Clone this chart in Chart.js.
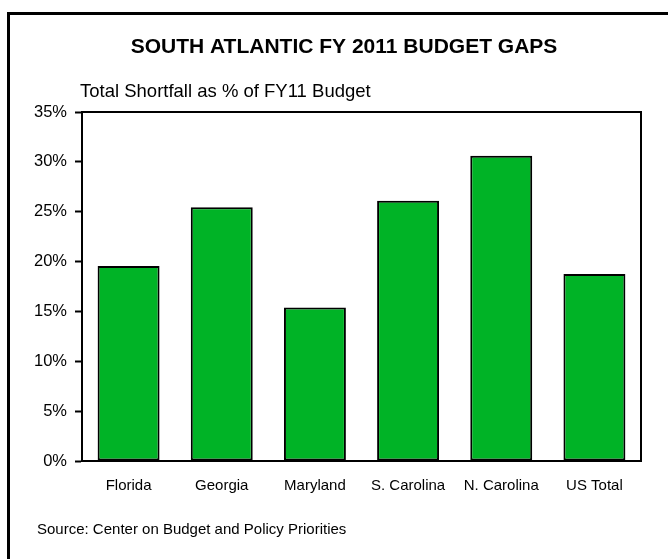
<!DOCTYPE html>
<html lang="en">
<head>
    <meta charset="UTF-8">
    <title>South Atlantic FY 2011 Budget Gaps</title>
    <script src="https://cdn.jsdelivr.net/npm/chart.js"></script>
    <style>
        html, body { margin: 0; padding: 0; background: #fff; }
        #wrap { width: 668px; height: 559px; position: relative; }
    </style>
</head>
<body>
    <div id="wrap">
        <canvas id="gapChart"></canvas>
    </div>

    <script>
        // chart data
        const states = ['Florida', 'Georgia', 'Maryland', 'S. Carolina', 'N. Carolina', 'US Total'];
        const shortfallPct = [19.55, 25.45, 15.4, 26.1, 30.6, 18.75];
        const yTicks = [0, 5, 10, 15, 20, 25, 30, 35];

        const FONT = "'Liberation Sans', Arial, sans-serif";

        // frame, headings, source note and the plot box
        const decorations = {
            id: 'decorations',
            beforeDraw(chart) {
                const ctx = chart.ctx;
                ctx.save();
                ctx.fillStyle = '#fff';
                ctx.fillRect(0, 0, chart.width, chart.height);
                ctx.strokeStyle = '#000';
                ctx.lineWidth = 3;
                ctx.beginPath();
                ctx.moveTo(8.5, chart.height + 2);
                ctx.lineTo(8.5, 13.5);
                ctx.lineTo(chart.width + 2, 13.5);
                ctx.stroke();

                ctx.fillStyle = '#000';
                ctx.textBaseline = 'middle';
                ctx.font = 'bold 21px ' + FONT;
                ctx.textAlign = 'center';
                ctx.fillText('SOUTH ATLANTIC FY 2011 BUDGET GAPS', 344, 47);

                ctx.font = '18.5px ' + FONT;
                ctx.textAlign = 'left';
                ctx.fillText('Total Shortfall as % of FY11 Budget', 80, 92);

                ctx.font = '15px ' + FONT;
                ctx.fillText('Source: Center on Budget and Policy Priorities', 37, 530);
                ctx.restore();
            },
            afterDatasetsDraw(chart) {
                const a = chart.chartArea;
                const ctx = chart.ctx;
                ctx.save();
                ctx.strokeStyle = '#000';
                ctx.lineWidth = 2;
                ctx.strokeRect(a.left, a.top, a.right - a.left, a.bottom - a.top);
                ctx.restore();
            }
        };

        new Chart(document.getElementById('gapChart'), {
            type: 'bar',
            data: {
                labels: states,
                datasets: [{
                    data: shortfallPct,
                    backgroundColor: '#00B326',
                    borderColor: '#000',
                    borderWidth: 2,
                    borderSkipped: false,
                    categoryPercentage: 1,
                    barPercentage: 0.665
                }]
            },
            options: {
                responsive: true,
                maintainAspectRatio: false,
                animation: false,
                layout: { padding: { left: 0, right: 27, top: 112, bottom: 58 } },
                plugins: {
                    legend: { display: false },
                    tooltip: { enabled: false }
                },
                scales: {
                    x: {
                        grid: { display: false, drawTicks: false },
                        border: { display: true, color: '#000', width: 2 },
                        ticks: {
                            color: '#000',
                            padding: 16,
                            maxRotation: 0,
                            autoSkip: false,
                            font: { family: FONT, size: 15 }
                        },
                        afterFit(scale) { scale.height = 40; }
                    },
                    y: {
                        min: 0,
                        max: 35,
                        afterBuildTicks(scale) {
                            scale.ticks = yTicks.map(v => ({ value: v }));
                        },
                        grid: {
                            drawOnChartArea: false,
                            drawTicks: true,
                            tickLength: 7,
                            tickWidth: 2,
                            tickColor: '#000'
                        },
                        border: { display: true, color: '#000', width: 2 },
                        ticks: {
                            color: '#000',
                            padding: 8,
                            font: { family: FONT, size: 16.5 },
                            callback: v => v + '%'
                        },
                        afterFit(scale) { scale.width = 82; }
                    }
                }
            },
            plugins: [decorations]
        });
    </script>
</body>
</html>
